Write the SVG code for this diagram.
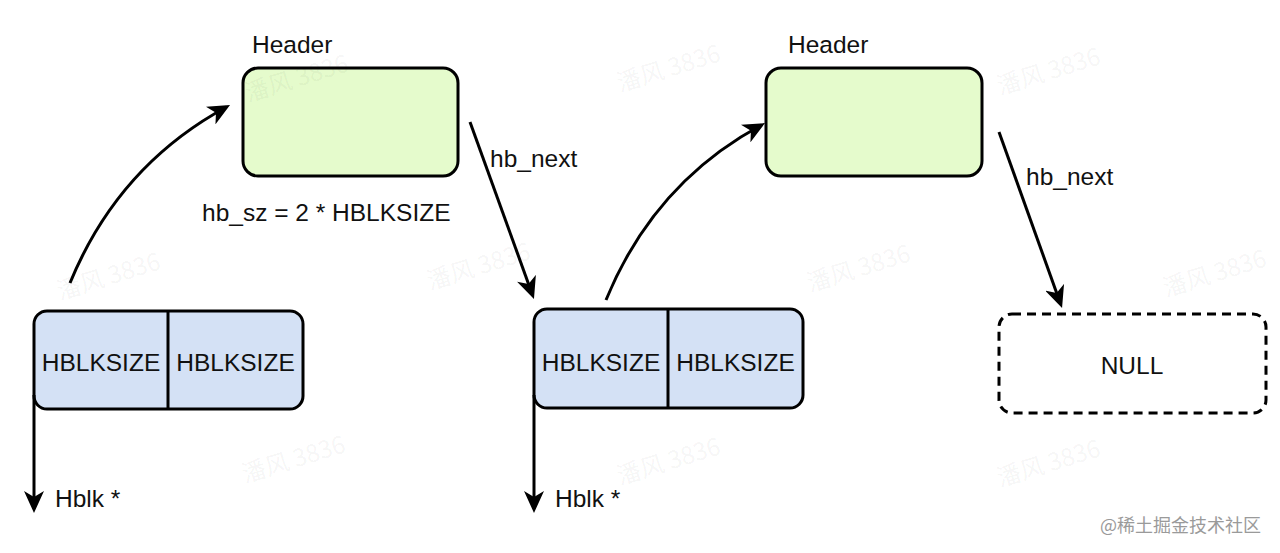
<svg xmlns="http://www.w3.org/2000/svg" width="1280" height="553" viewBox="0 0 1280 553">
<style>
.t{font-family:"Liberation Sans",Arial,Helvetica,sans-serif;font-size:24.5px;fill:#111}
.c{text-anchor:middle}
.hdr{fill:#e5fbcc;stroke:#000;stroke-width:3}
.blk{fill:#d4e1f5;stroke:#000;stroke-width:3}
.nul{fill:none;stroke:#000;stroke-width:3;stroke-dasharray:9 6}
.ln{fill:none;stroke:#000;stroke-width:3}
.wm{font-family:"Noto Sans CJK SC","Liberation Sans",sans-serif;font-size:24px;fill:#000;fill-opacity:0.05}
.brand{font-family:"Noto Sans CJK SC","Liberation Sans",sans-serif;font-size:18px;fill:#9a9a9a}
</style>
<defs>
<marker id="ah" markerUnits="userSpaceOnUse" viewBox="0 0 22 20" markerWidth="22" markerHeight="20" refX="18" refY="10" orient="auto">
<path d="M0,0 L22,10 L0,20 L6,10 Z" fill="#000"/>
</marker>
</defs>
<rect width="1280" height="553" fill="#ffffff"/>
<g id="header1">
<rect class="hdr" x="243" y="68" width="215" height="108" rx="15"/>
<text class="t" x="252" y="53">Header</text>
</g>
<g id="header2">
<rect class="hdr" x="766" y="68" width="216" height="108" rx="15"/>
<text class="t" x="788" y="53">Header</text>
</g>
<g id="hb_sz_label">
<text class="t" x="202" y="221">hb_sz = 2 * HBLKSIZE</text>
</g>
<g id="block1">
<rect class="blk" x="34" y="311" width="269" height="98" rx="13"/>
<line class="ln" x1="168" y1="311" x2="168" y2="409"/>
<text class="t c" x="101" y="371">HBLKSIZE</text>
<text class="t c" x="235.5" y="371">HBLKSIZE</text>
</g>
<g id="block2">
<rect class="blk" x="534" y="309" width="269" height="99" rx="13"/>
<line class="ln" x1="668" y1="309" x2="668" y2="408"/>
<text class="t c" x="601" y="371">HBLKSIZE</text>
<text class="t c" x="735.5" y="371">HBLKSIZE</text>
</g>
<g id="null">
<rect class="nul" x="999" y="314" width="267" height="99" rx="13"/>
<text class="t c" x="1132" y="374">NULL</text>
</g>
<g id="connectors">
<path class="ln" d="M70,283 Q118,166 226.5,107" marker-end="url(#ah)"/>
<path class="ln" d="M606,300 Q654,183 761.5,125" marker-end="url(#ah)"/>
<path class="ln" d="M470,122 L532.6,295.2" marker-end="url(#ah)"/>
<path class="ln" d="M999,132 L1060.7,304.2" marker-end="url(#ah)"/>
<path class="ln" d="M34,395 L34,509" marker-end="url(#ah)"/>
<path class="ln" d="M534,395 L534,509" marker-end="url(#ah)"/>
<text class="t" x="490" y="167">hb_next</text>
<text class="t" x="1026" y="185">hb_next</text>
<text class="t" x="55" y="507">Hblk *</text>
<text class="t" x="555" y="507">Hblk *</text>
</g>
<g id="watermarks">
<text class="wm" transform="translate(248,102) rotate(-17)">潘风 3836</text>
<text class="wm" transform="translate(60,300) rotate(-17)">潘风 3836</text>
<text class="wm" transform="translate(620,92) rotate(-17)">潘风 3836</text>
<text class="wm" transform="translate(430,290) rotate(-17)">潘风 3836</text>
<text class="wm" transform="translate(1000,95) rotate(-17)">潘风 3836</text>
<text class="wm" transform="translate(810,292) rotate(-17)">潘风 3836</text>
<text class="wm" transform="translate(1166,297) rotate(-17)">潘风 3836</text>
<text class="wm" transform="translate(245,483) rotate(-17)">潘风 3836</text>
<text class="wm" transform="translate(620,485) rotate(-17)">潘风 3836</text>
<text class="wm" transform="translate(1000,487) rotate(-17)">潘风 3836</text>
</g>
<text class="brand" x="1100" y="532">@稀土掘金技术社区</text>
</svg>
